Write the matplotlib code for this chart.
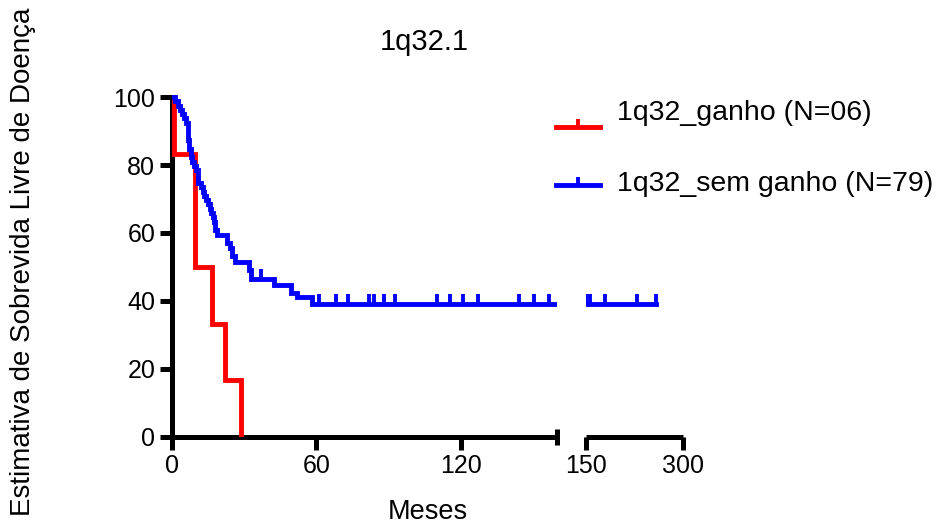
import numpy as np
import matplotlib
matplotlib.use("Agg")
import matplotlib.pyplot as plt
from matplotlib.lines import Line2D

plt.rcParams['font.family'] = ['Liberation Sans', 'DejaVu Sans']

# ---- data ----
title = "1q32.1"
xlabel = "Meses"
ylabel = "Estimativa de Sobrevida Livre de Doença"
label_red = "1q32_ganho (N=06)"
label_blue = "1q32_sem ganho (N=79)"

red_times = [0, 0.8, 9.4, 9.6, 16.8, 22.0, 28.8]
red_surv = [100, 83.3, 66.7, 50.0, 33.3, 16.7, 0.0]

blue_times = [0, 1.2, 2.4, 3.3, 4.2, 5.0, 6.0, 6.5, 6.8, 7.2, 8.0, 8.5, 9.3, 10.0,
              10.6, 11.0, 12.0, 13.0, 13.5, 14.3, 15.0, 15.6, 16.3, 17.0, 17.5,
              18.0, 18.7, 22.7, 24.0, 25.0, 26.0, 32.0, 33.0, 42.5, 49.5, 52.0,
              58.0, 258.0]
blue_surv = [100, 98.7, 97.5, 96.2, 94.9, 93.7, 92.4, 89.9, 87.3, 84.8, 82.3, 81.0,
             79.7, 78.5, 77.2, 74.7, 73.4, 72.2, 70.9, 69.6, 68.4, 67.1, 65.8, 64.6,
             63.3, 60.8, 59.5, 57.0, 55.7, 53.2, 51.5, 49.0, 46.5, 44.7, 42.4, 41.2,
             39.0, 39.0]
blue_censor = [37, 61, 68, 73, 82, 84, 88, 92.5, 110, 115.5, 121, 127, 144,
               150.5, 156.5, 180, 229, 258]

seg1_xlim = (0, 160)
seg2_xlim = (150, 300)
seg1_ticks = [0, 60, 120]
seg2_ticks = [150, 300]
y_ticks = [0, 20, 40, 60, 80, 100]

RED = (1, 0, 0)
BLUE = (0, 0, 1)
LW = 3.5
SPW = 3.6


def step_value(times, surv, t):
    idx = np.searchsorted(np.asarray(times), t, side='right') - 1
    return np.asarray(surv)[idx]


censor_vals = [step_value(blue_times, blue_surv, t) for t in blue_censor]

fig = plt.figure(figsize=(9.36, 5.27), dpi=100)
W, H = 936, 527
ymax = 103
ax_h = 340 * ymax / 100
ax1 = fig.add_axes([172 / W, 90 / H, 385 / W, ax_h / H])
ax2 = fig.add_axes([586 / W, 90 / H, 97 / W, ax_h / H])

for ax, xl in ((ax1, seg1_xlim), (ax2, seg2_xlim)):
    ax.step(red_times, red_surv, where='post', color=RED, lw=LW, zorder=3,
            solid_joinstyle='miter')
    ax.step(blue_times, blue_surv, where='post', color=BLUE, lw=LW, zorder=4,
            solid_joinstyle='miter')
    ax.plot(blue_censor, censor_vals, linestyle='none', marker=2, markersize=7,
            markeredgewidth=2.8, color=BLUE, zorder=4)
    ax.set_xlim(*xl)
    ax.set_ylim(0, ymax)
    ax.spines['top'].set_visible(False)
    ax.spines['right'].set_visible(False)
    ax.spines['bottom'].set_linewidth(SPW)
    ax.spines['left'].set_linewidth(SPW)
    ax.spines['bottom'].set_capstyle('butt')
    ax.tick_params(axis='both', which='major', direction='out', length=9,
                   width=SPW, labelsize=18, pad=3)
    ax.patch.set_alpha(0)

ax1.spines['left'].set_bounds(0, 100)
ax1.set_yticks(y_ticks)
ax1.set_xticks(seg1_ticks)
ax1.set_xticks([seg1_xlim[1]], minor=True)
ax1.tick_params(axis='x', which='minor', direction='inout', length=11, width=SPW)

ax2.spines['left'].set_visible(False)
ax2.set_yticks([])
ax2.set_xticks(seg2_ticks)
ax2.set_xticks([seg2_xlim[0]], minor=True)
ax2.tick_params(axis='x', which='minor', direction='inout', length=11, width=SPW)

fig.text(424 / W, 1 - 50 / H, title, fontsize=21, ha='center', va='baseline')
fig.text(428 / W, 1 - 519 / H, xlabel, fontsize=19.5, ha='center', va='baseline')
fig.text(23 / W, 1 - 262 / H, ylabel, fontsize=20, rotation=90,
         ha='center', va='center')

# legend
for color, label, ly, ty in ((RED, label_red, 127, 120), (BLUE, label_blue, 185, 191)):
    y = 1 - ly / H
    fig.add_artist(Line2D([556 / W, 600 / W], [y, y], color=color, lw=LW,
                          transform=fig.transFigure))
    fig.add_artist(Line2D([578 / W], [y], color=color, marker=2, markersize=6,
                          markeredgewidth=2.8, linestyle='none',
                          transform=fig.transFigure))
    fig.text(617 / W, 1 - ty / H, label, fontsize=20.5, ha='left', va='baseline')

fig.savefig("out.png", dpi=100)
